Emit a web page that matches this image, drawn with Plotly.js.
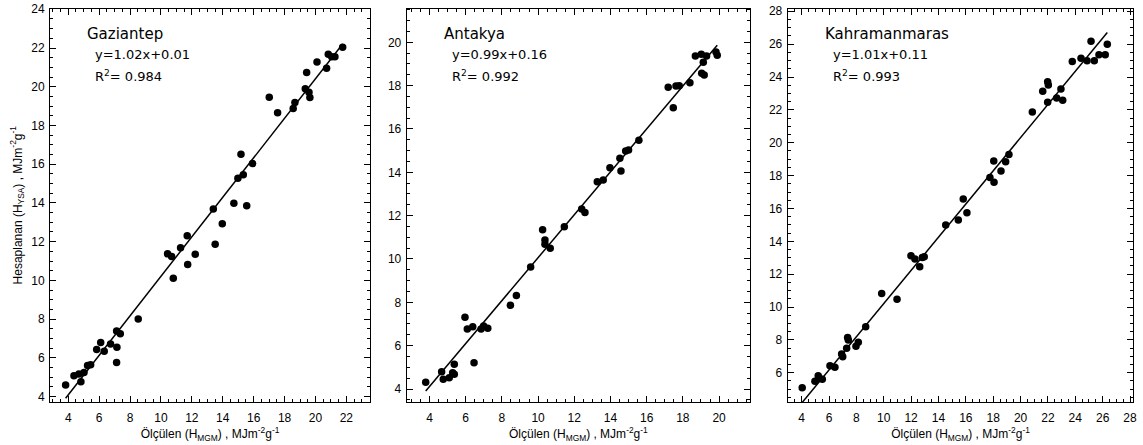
<!DOCTYPE html>
<html>
<head>
<meta charset="utf-8">
<script src="https://cdn.plot.ly/plotly-3.0.1.min.js"></script>
<style>html,body{margin:0;padding:0;background:#fff}#chart{width:1143px;height:445px}</style>
</head>
<body>
<div id="chart"></div>
<script>
// ---- Data ----
const stations = ["Gaziantep", "Antakya", "Kahramanmaras"];
const slopes = [1.02, 0.99, 1.01];
const intercepts = [0.01, 0.16, 0.11];
const r2 = ["0.984", "0.992", "0.993"];

const gazX = [3.83,4.37,4.69,4.82,5.02,5.25,5.45,5.84,6.10,6.33,6.74,7.13,7.37,7.15,7.13,8.53,10.43,10.69,10.80,11.27,11.70,11.73,12.22,13.51,13.97,13.39,14.72,15.55,14.98,15.33,15.18,15.93,17.01,17.55,18.56,18.67,19.34,19.58,19.64,19.43,20.10,20.72,20.83,21.05,21.26,21.76];
const gazY = [4.60,5.07,5.17,4.76,5.24,5.60,5.65,6.43,6.79,6.34,6.71,7.39,7.24,6.55,5.76,8.01,11.37,11.23,10.11,11.69,12.30,10.82,11.35,11.87,12.92,13.69,13.98,13.85,15.27,15.45,16.51,16.03,19.46,18.66,18.87,19.18,19.89,19.72,19.44,20.73,21.28,20.95,21.68,21.55,21.55,22.04];

const antX = [3.79,4.67,4.76,5.09,5.28,5.37,5.37,5.96,6.09,6.39,6.46,6.85,6.99,7.22,8.47,8.80,9.59,10.25,10.38,10.38,10.67,11.45,12.41,12.59,13.27,13.60,13.97,14.58,14.52,14.84,15.00,15.57,17.19,17.47,17.62,17.80,18.39,18.69,19.02,19.31,19.13,19.04,19.18,19.83,19.90];
const antY = [4.31,4.80,4.45,4.52,4.75,4.68,5.14,7.31,6.77,6.87,5.21,6.77,6.91,6.80,7.86,8.31,9.63,11.35,10.88,10.68,10.49,11.49,12.31,12.15,13.57,13.65,14.21,14.06,14.65,14.98,15.03,15.48,17.92,16.98,17.98,18.00,18.13,19.37,19.45,19.37,19.08,18.57,18.49,19.55,19.40];

const kahX = [4.04,4.97,5.21,5.29,5.51,6.07,6.43,6.92,7.00,7.29,7.36,7.41,7.97,8.14,8.68,9.85,10.97,11.99,12.28,12.63,12.82,12.96,14.53,15.45,16.08,15.81,17.76,18.06,18.04,18.57,18.91,19.15,20.86,21.62,21.98,22.03,21.98,22.64,22.95,23.08,23.78,24.42,24.86,25.15,25.39,25.73,26.19,26.34];
const kahY = [5.09,5.49,5.82,5.66,5.60,6.43,6.33,7.14,6.97,7.49,8.15,7.99,7.62,7.85,8.80,10.83,10.47,13.12,12.92,12.45,13.02,13.06,14.99,15.29,15.74,16.57,17.89,17.59,18.89,18.28,18.84,19.29,21.87,23.13,23.71,23.51,22.46,22.72,23.27,22.58,24.95,25.14,24.99,26.17,24.99,25.35,25.35,25.99];

const xTickVals = [[4,6,8,10,12,14,16,18,20,22],[4,6,8,10,12,14,16,18,20],[4,6,8,10,12,14,16,18,20,22,24,26,28]];
const yTickVals = [[4,6,8,10,12,14,16,18,20,22,24],[4,6,8,10,12,14,16,18,20],[6,8,10,12,14,16,18,20,22,24,26,28]];

// ---- Layout geometry (pixels) ----
const W = 1143, H = 445;
const boxes = [[50,370],[406.7,750],[787.7,1133.3]];
const topPx = 8.5, botPx = 402;
const xRanges = [[2.82,23.53],[2.74,21.71],[2.98,28.24]];
const yRanges = [[3.72,24.04],[3.40,21.56],[4.22,28.17]];

const allX = [gazX, antX, kahX];
const allY = [gazY, antY, kahY];

const FONT = "Liberation Sans, Arial, sans-serif";
const AFONT = "DejaVu Sans, Liberation Sans, sans-serif";
const traces = [];
const layout = {
  width: W, height: H,
  margin: {l:0, r:0, t:0, b:0},
  paper_bgcolor: "#fff", plot_bgcolor: "#fff",
  showlegend: false,
  font: {family: FONT, color: "#000", size: 12},
  annotations: []
};

for (let i = 0; i < 3; i++) {
  const ax = i === 0 ? "" : String(i+1);
  const xs = allX[i], ys = allY[i];
  traces.push({
    x: xs, y: ys, type: "scatter", mode: "markers",
    xaxis: "x"+ax, yaxis: "y"+ax,
    marker: {color: "#000", size: 7.5}, hoverinfo: "skip"
  });
  const x0 = Math.min(...xs), x1 = Math.max(...xs);
  traces.push({
    x: [x0, x1], y: [slopes[i]*x0 + intercepts[i], slopes[i]*x1 + intercepts[i]],
    type: "scatter", mode: "lines", xaxis: "x"+ax, yaxis: "y"+ax,
    line: {color: "#000", width: 1.5}, hoverinfo: "skip"
  });
  const common = {
    showline: true, linecolor: "#000", linewidth: 1, mirror: "allticks",
    ticks: "inside", ticklen: 6, tickwidth: 1, tickcolor: "#000",
    showgrid: false, zeroline: false,
    tickfont: {family: FONT, size: 12, color: "#000"},
    minor: {dtick: 0.5, tick0: 0, ticks: "inside", ticklen: 3, tickwidth: 1, tickcolor: "#000", showgrid: false}
  };
  layout["xaxis"+ax] = Object.assign({}, common, {
    domain: [boxes[i][0]/W, boxes[i][1]/W],
    range: xRanges[i], tickmode: "array", tickvals: xTickVals[i],
    anchor: "y"+ax, ticklabelstandoff: 5,
    title: {text: "Ölçülen (H<sub>MGM</sub>) , MJm<sup>-2</sup>g<sup>-1</sup>", font: {family: FONT, size: 12, color: "#000"}, standoff: 0}
  });
  layout["yaxis"+ax] = Object.assign({}, common, {
    domain: [1 - botPx/H, 1 - topPx/H],
    range: yRanges[i], tickmode: "array", tickvals: yTickVals[i],
    anchor: "x"+ax, ticklabelstandoff: 2
  });
  if (i === 0) {
    layout.yaxis.title = {text: "Hesaplanan (H<sub>YSA</sub>) , MJm<sup>-2</sup>g<sup>-1</sup>", font: {family: FONT, size: 12, color: "#000"}, standoff: 6};
  }
  const left = boxes[i][0];
  layout.annotations.push({
    xref: "paper", yref: "paper", x: (left+35)/W, y: 1 - 34/H,
    xanchor: "left", yanchor: "middle", showarrow: false,
    text: stations[i], font: {family: AFONT, size: 15, color: "#000"}
  });
  layout.annotations.push({
    xref: "paper", yref: "paper", x: (left+43)/W, y: 1 - 55/H,
    xanchor: "left", yanchor: "middle", showarrow: false,
    text: "y=" + slopes[i].toFixed(2) + "x+" + intercepts[i].toFixed(2), font: {family: AFONT, size: 13, color: "#000"}
  });
  layout.annotations.push({
    xref: "paper", yref: "paper", x: (left+43)/W, y: 1 - 76/H,
    xanchor: "left", yanchor: "middle", showarrow: false,
    text: "R<sup>2</sup>= " + r2[i], font: {family: AFONT, size: 13, color: "#000"}
  });
}

Plotly.newPlot("chart", traces, layout, {staticPlot: true, displayModeBar: false});
</script>
</body>
</html>
